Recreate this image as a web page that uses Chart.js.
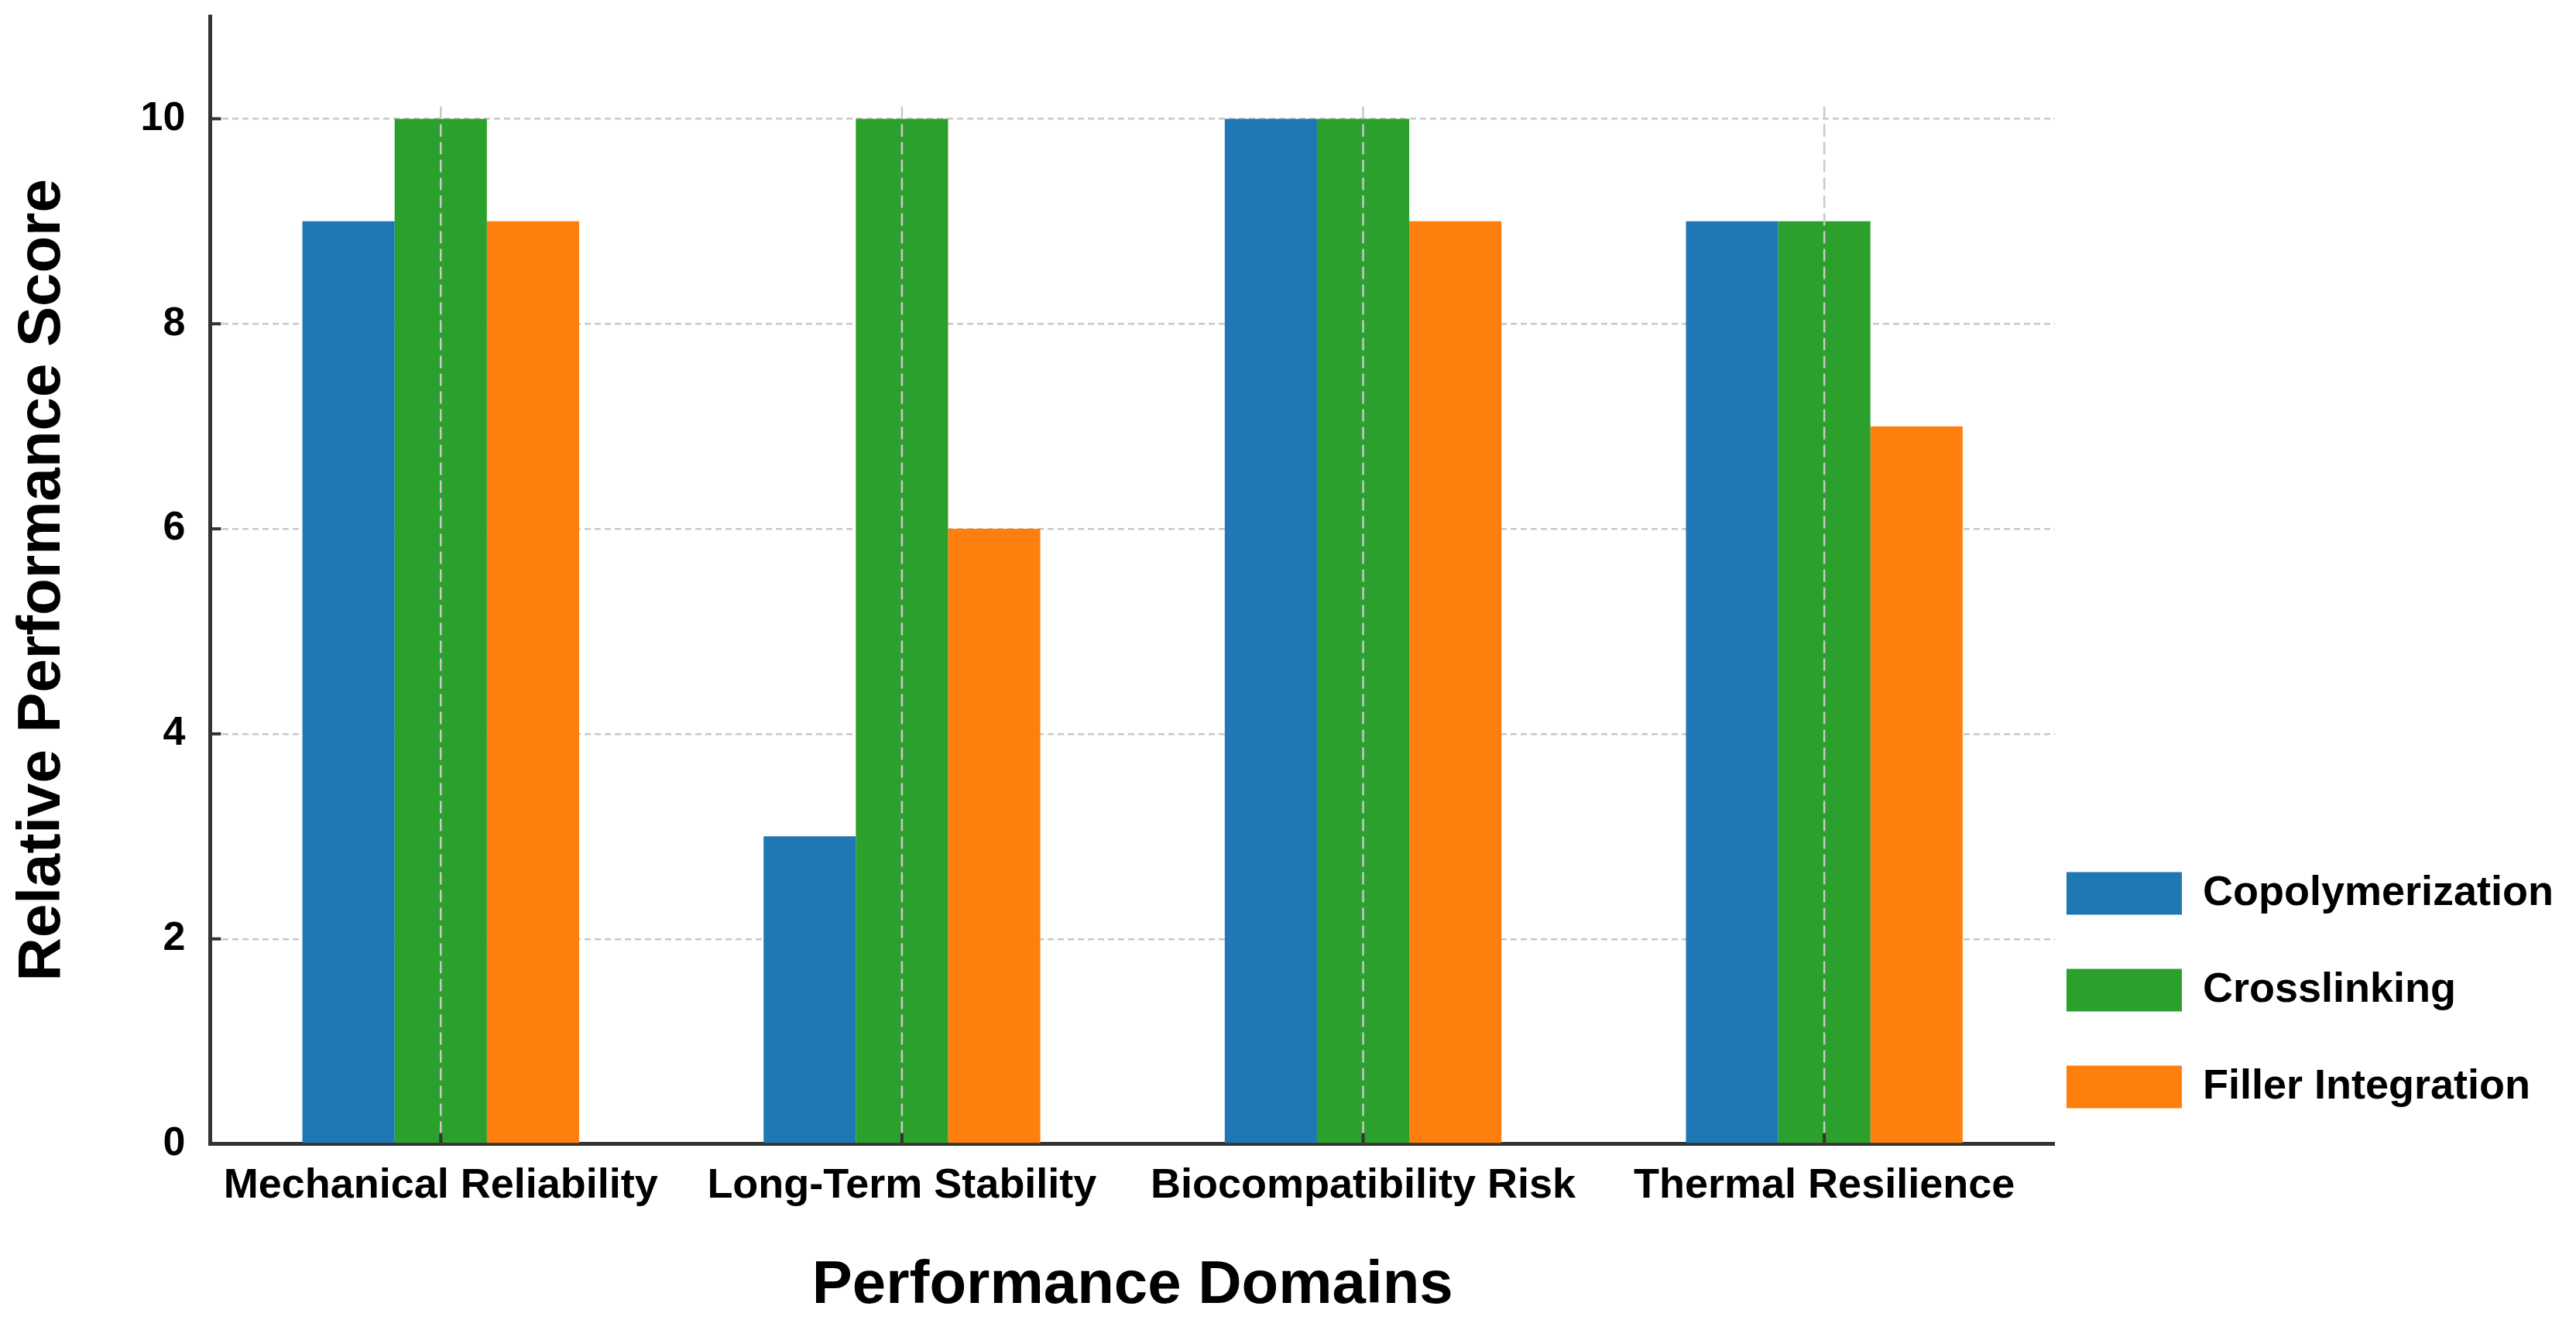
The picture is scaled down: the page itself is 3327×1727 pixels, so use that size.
<!DOCTYPE html>
<html><head><meta charset="utf-8">
<script src="https://cdn.jsdelivr.net/npm/chart.js@4.4.1/dist/chart.umd.min.js"></script>
<style>html,body{margin:0;padding:0;background:#fff;}#wrap{width:3327px;height:1727px;}</style>
</head><body><div id="wrap"><canvas id="c" width="3327" height="1727"></canvas></div>
<script>
const categories = ['Mechanical Reliability', 'Long-Term Stability', 'Biocompatibility Risk', 'Thermal Resilience'];
const seriesNames = ['Copolymerization', 'Crosslinking', 'Filler Integration'];
const copolymerization = [9, 3, 10, 9];
const crosslinking = [10, 10, 10, 9];
const fillerIntegration = [9, 6, 9, 7];
const yTickValues = [0, 2, 4, 6, 8, 10];
const colors = ['#1f77b4', '#2ca02c', '#ff7f0e'];
const FONT = "'Liberation Sans', Arial, sans-serif";

const extras = {
  id: 'extras',
  afterLayout(chart) {
    const l = chart.legend;
    const dx = -55, dy = 24;
    l.left += dx; l.right += dx; l.top += dy; l.bottom += dy;
  },
  afterDatasetsDraw(chart) {
    const {ctx, chartArea: a, scales: {x, y}} = chart;
    ctx.save();
    ctx.strokeStyle = '#c8c8c8';
    ctx.lineWidth = 2.5;
    ctx.setLineDash([16, 7]);
    x.ticks.forEach((t, i) => {
      const px = x.getPixelForTick(i);
      ctx.beginPath();
      ctx.moveTo(px, y.getPixelForValue(10.12));
      ctx.lineTo(px, a.bottom);
      ctx.stroke();
    });
    ctx.setLineDash([]);
    ctx.strokeStyle = '#333';
    ctx.lineWidth = 4;
    y.ticks.forEach(t => {
      const py = y.getPixelForValue(t.value);
      ctx.beginPath(); ctx.moveTo(a.left, py); ctx.lineTo(a.left + 14, py); ctx.stroke();
    });
    x.ticks.forEach((t, i) => {
      const px = x.getPixelForTick(i);
      ctx.beginPath(); ctx.moveTo(px, a.bottom); ctx.lineTo(px, a.bottom - 14); ctx.stroke();
    });
    ctx.restore();
  }
};

new Chart(document.getElementById('c'), {
  type: 'bar',
  data: {
    labels: categories,
    datasets: [
      {label: seriesNames[0], data: copolymerization, backgroundColor: colors[0]},
      {label: seriesNames[1], data: crosslinking, backgroundColor: colors[1]},
      {label: seriesNames[2], data: fillerIntegration, backgroundColor: colors[2]}
    ]
  },
  options: {
    responsive: false,
    devicePixelRatio: 1,
    animation: false,
    categoryPercentage: 0.6,
    barPercentage: 1.0,
    layout: {padding: {top: 21, right: -36, left: 0, bottom: 0}},
    plugins: {
      tooltip: {enabled: false},
      legend: {
        position: 'right',
        align: 'end',
        fullSize: false,
        labels: {
          boxWidth: 149, boxHeight: 55, padding: 70,
          color: '#000',
          font: {family: FONT, size: 54, weight: 'bold'}
        }
      }
    },
    scales: {
      x: {
        grid: {display: false, drawTicks: false},
        border: {display: true, color: '#333', width: 5},
        ticks: {color: '#000', padding: 22, font: {family: FONT, size: 54, weight: 'bold'}},
        title: {display: true, text: 'Performance Domains', color: '#000', padding: {top: 28, bottom: 19},
                font: {family: FONT, size: 78, weight: 'bold'}}
      },
      y: {
        min: 0, max: 11,
        z: 1,
        afterBuildTicks: s => { s.ticks = yTickValues.map(v => ({value: v})); },
        afterFit: s => { s.paddingTop = 0; s.paddingBottom = 0; },
        grid: {
          drawTicks: false, lineWidth: 2.5,
          color: c => (c.tick && c.tick.value === 0) ? 'rgba(0,0,0,0)' : '#c8c8c8'
        },
        border: {display: true, color: '#333', width: 5, dash: [8, 5]},
        ticks: {color: '#000', padding: 32, font: {family: FONT, size: 52, weight: 'bold'}},
        title: {display: true, text: 'Relative Performance Score', color: '#000', padding: {top: 9, bottom: 47},
                font: {family: FONT, size: 78, weight: 'bold'}}
      }
    }
  },
  plugins: [extras]
});
</script></body></html>
